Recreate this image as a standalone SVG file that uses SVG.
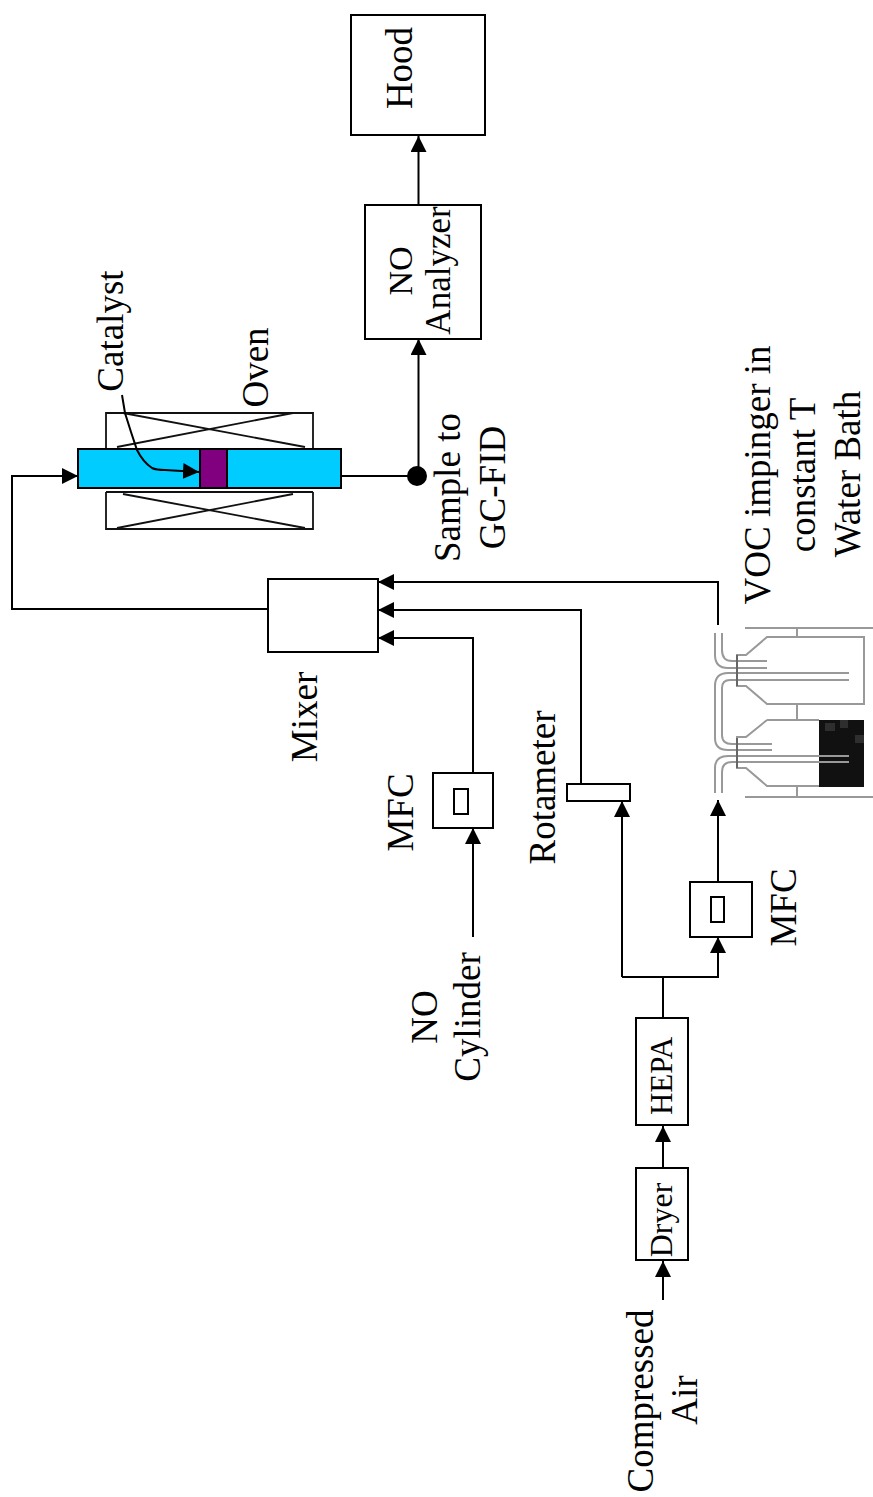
<svg xmlns="http://www.w3.org/2000/svg" width="873" height="1497" viewBox="0 0 873 1497">
<style>
text{font-family:"Liberation Serif","Times New Roman",serif;font-size:37px;fill:#000;text-anchor:middle}
.b{fill:#fff;stroke:#000;stroke-width:2}
.l{fill:none;stroke:#000;stroke-width:2}
.x{fill:none;stroke:#111;stroke-width:1.8}
.g{fill:none;stroke:#999;stroke-width:2}
.d{fill:none;stroke:#555;stroke-width:1.5}
</style>
<defs>
<marker id="a" markerUnits="userSpaceOnUse" markerWidth="18" markerHeight="17" refX="16" refY="8" orient="auto"><path d="M0 0L16 8L0 16Z" fill="#000"/></marker>
</defs>
<g id="oven">
<path class="x" d="M106 448V413H313V448M106 492V529H313V492M106 492H313"/>
<path class="x" d="M123 413L305 447M293 413L117 447M123 494L305 528M293 494L117 528"/>
<text transform="translate(268,367.500) rotate(-90)">Oven</text>
</g>
<g id="reactor">
<rect x="78" y="449" width="263" height="39" fill="#00ccff" stroke="#000" stroke-width="2"/>
<rect x="200" y="449" width="27" height="39" fill="#800080" stroke="#000" stroke-width="2"/>
</g>
<g id="catalyst"><text transform="translate(123,331) rotate(-90)">Catalyst</text></g>
<g id="hood"><rect class="b" x="351" y="15" width="134" height="120"/><text transform="translate(412,68) rotate(-90)">Hood</text></g>
<g id="no-analyzer"><rect class="b" x="365" y="205" width="116" height="134"/>
<text transform="translate(412,271) rotate(-90)" style="font-size:34px">NO</text>
<text transform="translate(450,270.500) rotate(-90)" style="font-size:35px">Analyzer</text></g>
<g id="sample"><circle cx="417" cy="476" r="10" fill="#000"/>
<text transform="translate(460,487.500) rotate(-90)">Sample to</text>
<text transform="translate(505,487.500) rotate(-90)">GC-FID</text></g>
<g id="mixer"><rect class="b" x="268" y="579" width="110" height="73"/><text transform="translate(317,717) rotate(-90)">Mixer</text></g>
<g id="mfc1"><rect class="b" x="433" y="773" width="60" height="55"/><rect class="b" x="454" y="789" width="14" height="25"/><text transform="translate(413,812.500) rotate(-90)">MFC</text></g>
<g id="no-cylinder"><text transform="translate(437,1017) rotate(-90)">NO</text><text transform="translate(480,1017) rotate(-90)">Cylinder</text></g>
<g id="rotameter"><rect class="b" x="567" y="784" width="63" height="17"/><text transform="translate(555,787.500) rotate(-90)">Rotameter</text></g>
<g id="mfc2"><rect class="b" x="690" y="882" width="62" height="55"/><rect class="b" x="711" y="897" width="13" height="25"/><text transform="translate(796,907.500) rotate(-90)">MFC</text></g>
<g id="hepa"><rect class="b" x="636" y="1018" width="52" height="107"/><text transform="translate(672,1076) rotate(-90)" style="font-size:31px">HEPA</text></g>
<g id="dryer"><rect class="b" x="636" y="1168" width="52" height="92"/><text transform="translate(672,1220) rotate(-90)" style="font-size:32px">Dryer</text></g>
<g id="air"><text transform="translate(653,1401) rotate(-90)">Compressed</text><text transform="translate(697,1400) rotate(-90)">Air</text></g>
<g id="impinger">
<rect x="819" y="720" width="45" height="67" fill="#111"/>
<path d="M825 723h10v8h-10zM840 720h8v8h-8zM855 735h9v8h-9z" fill="#2e2e2e"/>
<path class="g" d="M745 628H873M797 628V637M767 637H864V704H767L746 686H737V655H746ZM797 704V720M767 720H819M767 720L746 737H737V768H746L767 786H819M797 786V797M745 797H873"/>
<path class="g" d="M715 633V655Q715 668 728 668H767M722 633V650Q722 661 732 661H767M849 673H728Q715 673 715 686V738Q715 750 728 750H772M849 680H730Q722 680 722 688V735Q722 744 732 744H772M715 793V768Q715 756 728 756H849M722 793V772Q722 762 732 762H849"/>
<path class="d" d="M737 655V686M737 738V768"/>
<text transform="translate(770,475) rotate(-90)">VOC impinger in</text>
<text transform="translate(815,475) rotate(-90)">constant T</text>
<text transform="translate(860,474) rotate(-90)">Water Bath</text>
</g>
<g id="connectors">
<path class="l" marker-end="url(#a)" d="M418.500 205V136"/>
<path class="l" marker-end="url(#a)" d="M341 476H418.500V339"/>
<path class="l" marker-end="url(#a)" d="M268 609H12V476H78"/>
<path class="l" marker-end="url(#a)" d="M473 773V638H378"/>
<path class="l" marker-end="url(#a)" d="M473 937V828"/>
<path class="l" marker-end="url(#a)" d="M581 784V610H378"/>
<path class="l" marker-end="url(#a)" d="M718 625V582H378"/>
<path class="l" marker-end="url(#a)" d="M622 977V801"/>
<path class="l" marker-end="url(#a)" d="M718 882V800"/>
<path class="l" marker-end="url(#a)" d="M622 977H718V937"/>
<path class="l" d="M663 1018V977"/>
<path class="l" marker-end="url(#a)" d="M663 1168V1126"/>
<path class="l" marker-end="url(#a)" d="M663 1300V1261"/>
<path class="l" marker-end="url(#a)" d="M122 395L125 413L131 432L137 450Q143 462 152 468Q156 470 165 470L199 472"/>
</g>
</svg>
